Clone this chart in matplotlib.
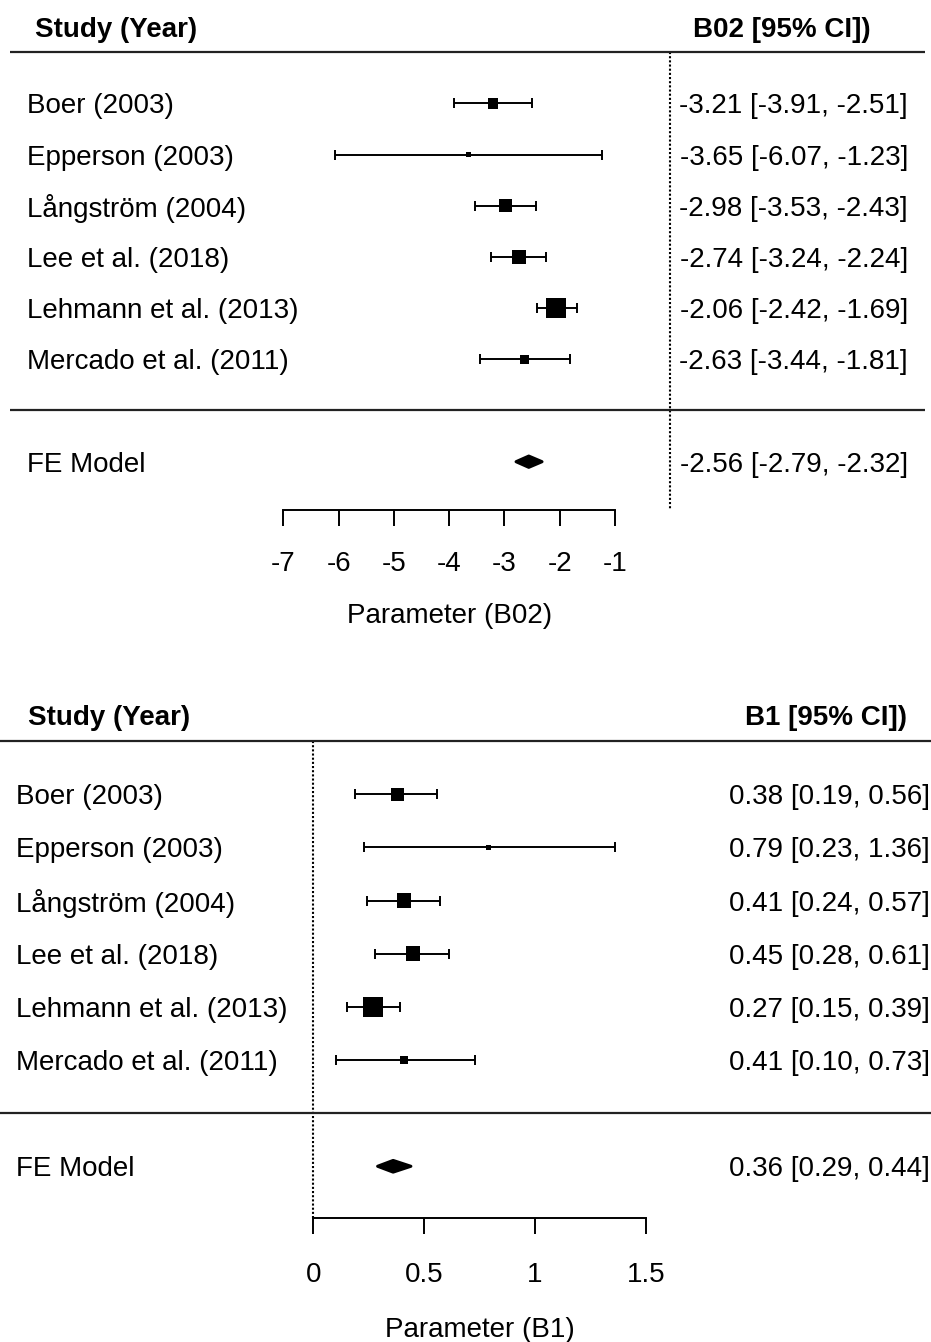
import matplotlib
matplotlib.use("Agg")
import matplotlib.pyplot as plt
import matplotlib.transforms as mtransforms
from matplotlib.patches import Polygon
import numpy as np

plt.rcParams['font.family'] = ['Liberation Sans', 'DejaVu Sans']
plt.rcParams['axes.unicode_minus'] = False

# ---------------- data ----------------
studies = ["Boer (2003)", "Epperson (2003)", "Långström (2004)",
           "Lee et al. (2018)", "Lehmann et al. (2013)", "Mercado et al. (2011)"]

b02_est = [-3.21, -3.65, -2.98, -2.74, -2.06, -2.63]
b02_lb = [-3.91, -6.07, -3.53, -3.24, -2.42, -3.44]
b02_ub = [-2.51, -1.23, -2.43, -2.24, -1.69, -1.81]
b02_fe = [-2.56, -2.79, -2.32]
b02_ticks = [-7, -6, -5, -4, -3, -2, -1]

b1_est = [0.38, 0.79, 0.41, 0.45, 0.27, 0.41]
b1_lb = [0.19, 0.23, 0.24, 0.28, 0.15, 0.10]
b1_ub = [0.56, 1.36, 0.57, 0.61, 0.39, 0.73]
b1_fe = [0.36, 0.29, 0.44]
b1_ticks = [0, 0.5, 1, 1.5]

W, H = 931, 1342
fig = plt.figure(figsize=(W / 100, H / 100), dpi=100)
FS = 20
VA = 'center_baseline'


def forest(ax, est, lb, ub, fe, ticks, tick_fmt, xlabel, est_header,
           label_x, header_x, right_x, rhead_x, line_x0, line_x1, axis_y,
           tick_pad, xlabel_y):
    est = np.asarray(est); lb = np.asarray(lb); ub = np.asarray(ub)
    k = len(est)
    ys = np.arange(k, 0, -1)
    blend = mtransforms.blended_transform_factory(ax.transAxes, ax.transData)

    # reference line at 0
    ax.plot([0, 0], [k + 1, axis_y], color='black', lw=1.5,
            linestyle=(0, (1, 1)), zorder=1)

    # separators
    for yy in (k + 1, 0):
        ax.plot([line_x0 / W, line_x1 / W], [yy, yy], transform=blend,
                color='#222222', lw=1.6, solid_capstyle='butt', clip_on=False)

    # CIs
    ax.errorbar(est, ys, xerr=[est - lb, ub - est], fmt='none',
                ecolor='black', elinewidth=1.4, capsize=3.6, capthick=1.4,
                zorder=2)
    # squares sized by inverse SE
    wi = 1.0 / ((ub - lb) / 3.92)
    side_px = np.maximum(4.5, 20.0 * wi / wi.max())
    ax.scatter(est, ys, marker='s', s=(side_px * 0.72) ** 2,
               color='black', linewidths=0, zorder=3)

    # FE diamond
    h = 0.11
    poly = Polygon([[fe[1], -1], [fe[0], -1 + h], [fe[2], -1], [fe[0], -1 - h]],
                   closed=True, facecolor='black', edgecolor='black', lw=2.2,
                   joinstyle='round', zorder=3)
    ax.add_patch(poly)

    # left labels
    for name, yy in zip(studies, ys):
        ax.text(label_x / W, yy, name, transform=blend, ha='left',
                va=VA, fontsize=FS)
    ax.text(label_x / W, -1, "FE Model", transform=blend, ha='left',
            va=VA, fontsize=FS)

    # right annotations
    for e, l, u, yy in zip(est, lb, ub, ys):
        ax.text(right_x / W, yy, f"{e:.2f} [{l:.2f}, {u:.2f}]",
                transform=blend, ha='right', va=VA, fontsize=FS)
    ax.text(right_x / W, -1, f"{fe[0]:.2f} [{fe[1]:.2f}, {fe[2]:.2f}]",
            transform=blend, ha='right', va=VA, fontsize=FS)

    # headers
    ax.text(header_x / W, k + 1.5, "Study (Year)", transform=blend,
            ha='left', va=VA, fontsize=FS, fontweight='bold')
    ax.text(rhead_x / W, k + 1.5, est_header, transform=blend,
            ha='right', va=VA, fontsize=FS, fontweight='bold')

    # x axis
    for s in ('top', 'right', 'left'):
        ax.spines[s].set_visible(False)
    ax.spines['bottom'].set_position(('data', axis_y))
    ax.spines['bottom'].set_bounds(ticks[0], ticks[-1])
    ax.spines['bottom'].set_linewidth(1.4)
    ax.set_xticks(ticks)
    ax.set_xticklabels([tick_fmt(t) for t in ticks])
    ax.tick_params(axis='x', direction='out', length=11.5, width=1.4,
                   pad=tick_pad, labelsize=FS)
    ax.set_yticks([])
    ax.text(np.mean([ticks[0], ticks[-1]]), xlabel_y, xlabel, ha='center',
            va=VA, fontsize=FS)
    ax.patch.set_alpha(0)


# top panel: figure px rows 0..650
ax1 = fig.add_axes([0, 1 - 650 / H, 1, 650 / H])
ax1.set_xlim(-12.125, 4.716)
ax1.set_ylim(-4.678, 8.018)
forest(ax1, b02_est, b02_lb, b02_ub, b02_fe, b02_ticks,
       lambda t: f"{t:d}", "Parameter (B02)", "B02 [95% CI])",
       label_x=27, header_x=35, right_x=908, rhead_x=871,
       line_x0=10, line_x1=925, axis_y=-1.94, tick_pad=18, xlabel_y=-3.96)

# bottom panel: figure px rows 650..1342
ax2 = fig.add_axes([0, 0, 1, 692 / H])
ax2.set_xlim(-1.414, 2.787)
ax2.set_ylim(-4.307, 8.716)
forest(ax2, b1_est, b1_lb, b1_ub, b1_fe, b1_ticks,
       lambda t: f"{t:g}", "Parameter (B1)", "B1 [95% CI])",
       label_x=16, header_x=28, right_x=930, rhead_x=907,
       line_x0=0, line_x1=931, axis_y=-1.97, tick_pad=20, xlabel_y=-4.03)

fig.savefig("out.png", dpi=100)
